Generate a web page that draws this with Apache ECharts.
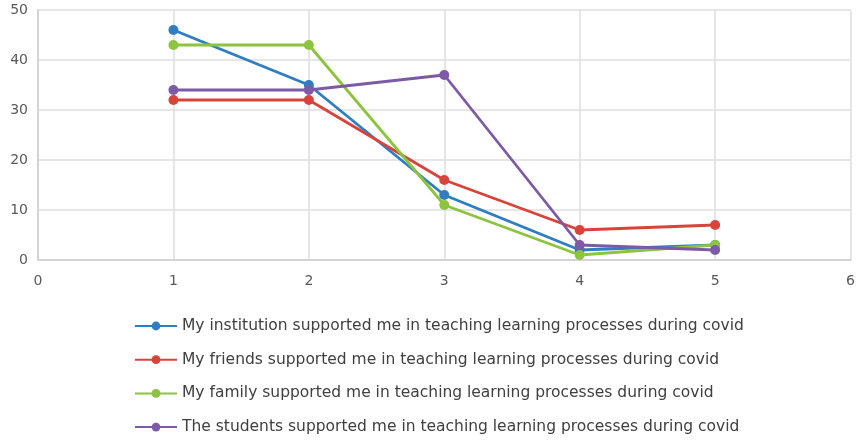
<!DOCTYPE html>
<html>
<head>
<meta charset="utf-8">
<script src="https://cdn.jsdelivr.net/npm/echarts@6/dist/echarts.min.js"></script>
<style>
html, body { margin: 0; padding: 0; background: #fff; }
#main { width: 858px; height: 446px; }
</style>
</head>
<body>
<div id="main"></div>
<script>
// data
var xs = [1, 2, 3, 4, 5];
var institution = [46, 35, 13, 2, 3];
var friends = [32, 32, 16, 6, 7];
var family = [43, 43, 11, 1, 3];
var students = [34, 34, 37, 3, 2];
var names = [
	'My institution supported me in teaching learning processes during covid',
	'My friends supported me in teaching learning processes during covid',
	'My family supported me in teaching learning processes during covid',
	'The students supported me in teaching learning processes during covid'
];
var colors = ['#2E7EC1', '#D8433B', '#8DC43F', '#7D5AA6'];

function pairs(vals) {
	return xs.map(function(x, i) { return [x, vals[i]]; });
}

var myChart = echarts.init(document.getElementById('main'));

var seriesVals = [institution, friends, family, students];
var option = {
	backgroundColor: '#fff',
	animation: false,
	color: colors,
	grid: { left: 38, right: 4, top: 10, bottom: 186 },
	legend: {
		orient: 'vertical',
		left: 129,
		top: 313,
		itemGap: 17.7,
		itemWidth: 42,
		itemHeight: 11,
		textStyle: { color: '#404040', fontSize: 15.5, fontFamily: 'DejaVu Sans' },
		data: names
	},
	xAxis: {
		type: 'value',
		min: 0, max: 6, interval: 1,
		axisLine: { show: true, lineStyle: { color: '#d4d4d4', width: 2 } },
		axisTick: { show: false },
		splitLine: { show: true, lineStyle: { color: '#dedede', width: 1.5 } },
		axisLabel: { color: '#595959', fontSize: 14, margin: 14, fontFamily: 'DejaVu Sans' }
	},
	yAxis: {
		type: 'value',
		min: 0, max: 50, interval: 10,
		axisLine: { show: true, lineStyle: { color: '#d4d4d4', width: 2 } },
		axisTick: { show: false },
		splitLine: { show: true, lineStyle: { color: '#dedede', width: 1.5 } },
		axisLabel: { color: '#595959', fontSize: 14, margin: 10, fontFamily: 'DejaVu Sans' }
	},
	series: seriesVals.map(function(v, i) {
		return {
			name: names[i],
			type: 'line',
			data: pairs(v),
			symbol: 'circle',
			symbolSize: 10,
			lineStyle: { width: 2.8, color: colors[i] },
			itemStyle: { color: colors[i] }
		};
	})
};

myChart.setOption(option);
</script>
</body>
</html>
